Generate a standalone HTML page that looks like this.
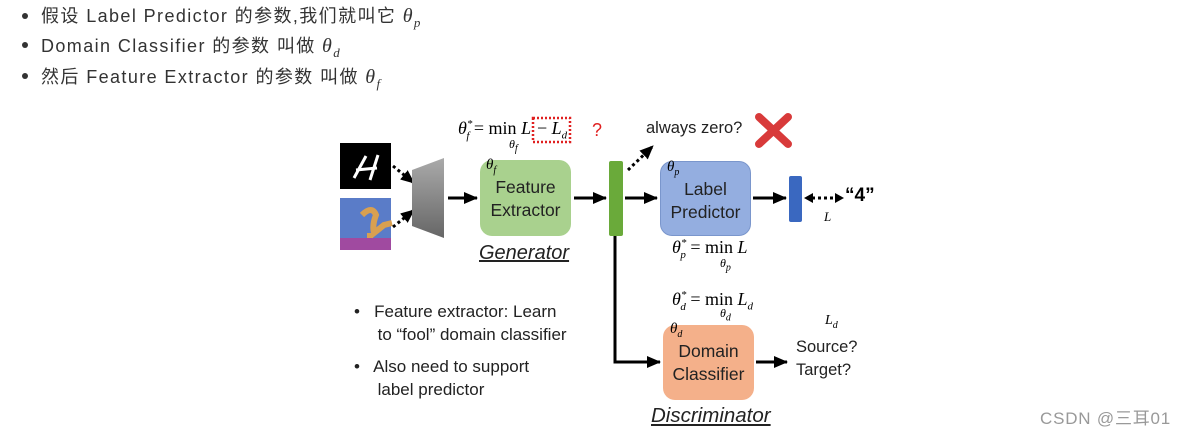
<!DOCTYPE html>
<html><head><meta charset="utf-8"><style>
body{margin:0;width:1190px;height:433px;background:#fff;position:relative;overflow:hidden;font-family:"Liberation Sans","Noto Sans CJK SC",sans-serif;}
.a{position:absolute;white-space:nowrap;}
.li{font-size:18px;color:#333;left:41px;letter-spacing:1.4px;}
.dot{position:absolute;left:22px;width:6px;height:6px;border-radius:50%;background:#333;}
.m{font-family:"Liberation Serif",serif;font-style:italic;}
.box{position:absolute;border-radius:12px;font-size:17.5px;color:#222;text-align:center;line-height:23px;box-sizing:border-box;}
.d{font-size:16.5px;color:#222;}
</style></head><body>
<div class="dot" style="top:13px"></div><div class="a li" style="top:2px">假设 Label Predictor 的参数,我们就叫它 <span class="m" style="font-size:20px">θ<sub style="font-size:13px">p</sub></span></div>
<div class="dot" style="top:42px"></div><div class="a li" style="top:32px">Domain Classifier 的参数 叫做 <span class="m" style="font-size:20px">θ<sub style="font-size:13px">d</sub></span></div>
<div class="dot" style="top:73px"></div><div class="a li" style="top:63px">然后 Feature Extractor 的参数 叫做 <span class="m" style="font-size:20px">θ<sub style="font-size:13px">f</sub></span></div>

<svg class="a" style="left:0;top:0" width="1190" height="433">
<defs><marker id="ah" markerUnits="userSpaceOnUse" markerWidth="14" markerHeight="14" refX="13" refY="7" orient="auto"><path d="M0,1L14,7L0,13z" fill="#000"/></marker></defs>
<rect x="340" y="143" width="51" height="46" fill="#000"/>
<path d="M354,178 L366,156 M356,170 L377,168 M378,155 L370,180" stroke="#fff" stroke-width="3" fill="none"/>
<rect x="340" y="198" width="51" height="52" fill="#5a7cc8"/>
<rect x="340" y="238" width="51" height="12" fill="#a04aa0"/>
<path d="M362,215 q10,-10 14,0 q-4,10 -2,18 l10,-8 l8,-2 M370,233 l0,5" stroke="#d9a050" stroke-width="6" fill="none"/>
<path d="M393,166 L414,183" stroke="#000" stroke-width="3" stroke-dasharray="3,3" marker-end="url(#ah)"/>
<path d="M393,227 L414,210" stroke="#000" stroke-width="3" stroke-dasharray="3,3" marker-end="url(#ah)"/>
<defs><linearGradient id="g" x1="0" y1="0" x2="0" y2="1"><stop offset="0" stop-color="#aaa"/><stop offset="1" stop-color="#666"/></linearGradient></defs>
<polygon points="412,170 444,158 444,238 412,226" fill="url(#g)"/>
<line x1="448" y1="198" x2="477" y2="198" stroke="#000" stroke-width="3" marker-end="url(#ah)"/>
<line x1="574" y1="198" x2="606" y2="198" stroke="#000" stroke-width="3" marker-end="url(#ah)"/>
<rect x="609" y="161" width="14" height="75" rx="2" fill="#6aaa3a"/>
<line x1="625" y1="198" x2="657" y2="198" stroke="#000" stroke-width="3" marker-end="url(#ah)"/>
<path d="M628,170 L653,146" stroke="#000" stroke-width="3" stroke-dasharray="3,3" marker-end="url(#ah)"/>
<line x1="753" y1="198" x2="786" y2="198" stroke="#000" stroke-width="3" marker-end="url(#ah)"/>
<rect x="789" y="176" width="13" height="46" rx="2" fill="#3a68c0"/>
<path d="M812,198 L836,198" stroke="#000" stroke-width="3" stroke-dasharray="3,3"/>
<path d="M804,198l9,-5v10z M844,198l-9,-5v10z" fill="#000"/>
<path d="M615,236 L615,362 L660,362" stroke="#000" stroke-width="3" fill="none" marker-end="url(#ah)"/>
<line x1="756" y1="362" x2="787" y2="362" stroke="#000" stroke-width="3" marker-end="url(#ah)"/>
<rect x="533" y="118" width="37" height="24" fill="none" stroke="#e02020" stroke-width="2.5" stroke-dasharray="2,2"/>
<path d="M759,117 L788,144 M788,117 L759,144" stroke="#d83a3a" stroke-width="8" stroke-linecap="round"/>
</svg>

<div class="box" style="left:480px;top:160px;width:91px;height:76px;background:#a9d18e;padding-top:16px">Feature<br>Extractor</div>
<div class="a m" style="left:486px;top:157px;font-size:15px">θ<sub style="font-size:10px">f</sub></div>
<div class="box" style="left:660px;top:161px;width:91px;height:75px;background:#94aee0;border:1px solid #7a96cc;padding-top:16px">Label<br>Predictor</div>
<div class="a m" style="left:667px;top:159px;font-size:15px">θ<sub style="font-size:10px">p</sub></div>
<div class="box" style="left:663px;top:325px;width:91px;height:75px;background:#f4b08a;padding-top:15px">Domain<br>Classifier</div>
<div class="a m" style="left:670px;top:321px;font-size:15px">θ<sub style="font-size:10px">d</sub></div>

<div class="a m" style="left:458px;top:118px;font-size:18px">θ<sup style="font-size:11px">*</sup><sub style="font-size:11px;margin-left:-6px">f</sub> <span style="font-style:normal">= min</span> L</div>
<div class="a m" style="left:537px;top:118px;font-size:18px"><span style="font-style:normal">−</span> L<sub style="font-size:11px">d</sub></div>
<div class="a m" style="left:509px;top:137px;font-size:12px">θ<sub>f</sub></div>
<div class="a" style="left:592px;top:120px;font-size:18px;color:#e02020">?</div>
<div class="a d" style="left:646px;top:119px">always zero?</div>
<div class="a" style="left:845px;top:185px;font-size:19px;font-weight:bold">“4”</div>
<div class="a m" style="left:824px;top:209px;font-size:13px">L</div>
<div class="a m" style="left:672px;top:237px;font-size:18px">θ<sup style="font-size:11px">*</sup><sub style="font-size:11px;margin-left:-6px">p</sub> <span style="font-style:normal">= min</span> L</div>
<div class="a m" style="left:720px;top:256px;font-size:12px">θ<sub>p</sub></div>
<div class="a m" style="left:672px;top:289px;font-size:18px">θ<sup style="font-size:11px">*</sup><sub style="font-size:11px;margin-left:-6px">d</sub> <span style="font-style:normal">= min</span> L<sub style="font-size:11px">d</sub></div>
<div class="a m" style="left:720px;top:306px;font-size:12px">θ<sub>d</sub></div>
<div class="a m" style="left:825px;top:313px;font-size:14px">L<sub style="font-size:10px">d</sub></div>
<div class="a d" style="left:796px;top:336px;line-height:23px">Source?<br>Target?</div>
<div class="a" style="left:479px;top:242px;font-size:20px;font-style:italic;text-decoration:underline;color:#222">Generator</div>
<div class="a" style="left:651px;top:404px;font-size:20.5px;font-style:italic;text-decoration:underline;color:#222">Discriminator</div>
<div class="a d" style="left:354px;top:300px;line-height:23px;font-size:17px">•&nbsp;&nbsp; Feature extractor: Learn<br>&nbsp;&nbsp;&nbsp;&nbsp; to “fool” domain classifier</div>
<div class="a d" style="left:354px;top:355px;line-height:23px;font-size:17px">•&nbsp;&nbsp; Also need to support<br>&nbsp;&nbsp;&nbsp;&nbsp; label predictor</div>
<div class="a" style="left:1040px;top:404px;font-size:17px;color:#999;letter-spacing:0.8px">CSDN @三耳01</div>
</body></html>
